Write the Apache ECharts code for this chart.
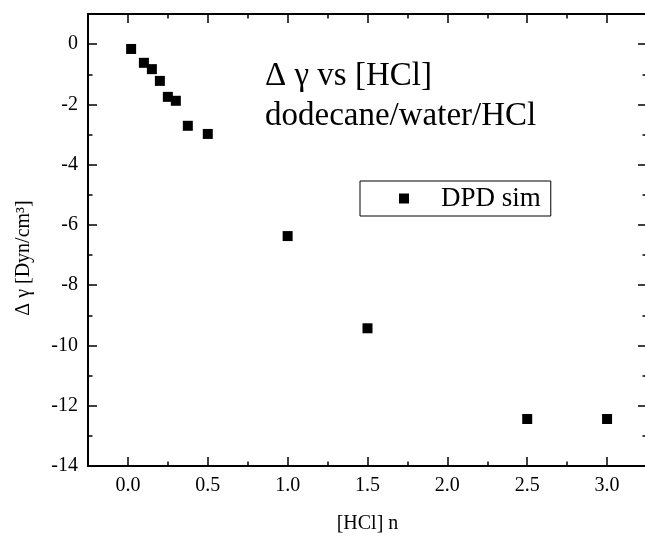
<!DOCTYPE html>
<html>
<head>
<meta charset="utf-8">
<script src="https://cdn.jsdelivr.net/npm/echarts@6/dist/echarts.min.js"></script>
<style>
html,body{margin:0;padding:0;background:#fff;}
#chart{width:645px;height:538px;}
</style>
</head>
<body>
<div id="chart"></div>
<script>
// Data
const hclConc = [0.02, 0.1, 0.15, 0.2, 0.25, 0.3, 0.375, 0.5, 1.0, 1.5, 2.5, 3.0];
const deltaGamma = [-0.16, -0.62, -0.83, -1.22, -1.75, -1.88, -2.71, -2.98, -6.37, -9.43, -12.44, -12.44];
const xMajorTicks = [0, 0.5, 1.0, 1.5, 2.0, 2.5, 3.0];
const xMinorTicks = [-0.25, 0.25, 0.75, 1.25, 1.75, 2.25, 2.75, 3.25];
const yMajorTicks = [-14, -12, -10, -8, -6, -4, -2, 0];
const yMinorTicks = [-13, -11, -9, -7, -5, -3, -1];
const seriesName = 'DPD sim';
const titleText = 'Δ γ vs [HCl]\ndodecane/water/HCl';
const xName = '[HCl] n';
const yName = 'Δ γ [Dyn/cm³]';

const FONT = '"Liberation Serif", "Times New Roman", serif';
const black = '#000';

function xAxisDef(pos, ticks, len, showLine, withLabels) {
  return {
    type: 'value', position: pos, min: -0.25, max: 3.25,
    axisLine: {show: showLine, onZero: false, lineStyle: {color: black, width: 2}},
    axisTick: {show: true, inside: true, length: len, customValues: ticks, lineStyle: {color: black, width: 1.5}},
    axisLabel: withLabels ? {show: true, customValues: xMajorTicks, margin: 10, color: black, fontFamily: FONT, fontSize: 20,
      formatter: v => Number(v).toFixed(1)} : {show: false},
    splitLine: {show: false},
    name: withLabels ? xName : '',
    nameLocation: 'middle', nameGap: 48,
    nameTextStyle: {fontFamily: FONT, fontSize: 20, color: black}
  };
}
function yAxisDef(pos, ticks, len, showLine, withLabels) {
  return {
    type: 'value', position: pos, min: -14, max: 1,
    axisLine: {show: showLine, onZero: false, lineStyle: {color: black, width: 2}},
    axisTick: {show: true, inside: true, length: len, customValues: ticks, lineStyle: {color: black, width: 1.5}},
    axisLabel: withLabels ? {show: true, customValues: yMajorTicks, margin: 10, color: black, fontFamily: FONT, fontSize: 20,
      formatter: v => String(v)} : {show: false},
    splitLine: {show: false},
    name: withLabels ? yName : '',
    nameLocation: 'middle', nameGap: 54, nameRotate: 90,
    nameTextStyle: {fontFamily: FONT, fontSize: 20, color: black, padding: [0, 36, 0, 0]}
  };
}

const chart = echarts.init(document.getElementById('chart'), null, {renderer: 'canvas'});
chart.setOption({
  animation: false,
  backgroundColor: '#fff',
  title: {
    text: titleText, left: 265, top: 56, padding: 0,
    textStyle: {fontFamily: FONT, fontSize: 33, fontWeight: 'normal', color: black, lineHeight: 40}
  },
  legend: {
    left: 360, top: 181, orient: 'horizontal',
    borderColor: black, borderWidth: 1, padding: [4, 10, 4, 39],
    itemWidth: 10, itemHeight: 10, itemGap: 0,
    itemStyle: {opacity: 1, color: black},
    textStyle: {fontFamily: FONT, fontSize: 27, color: black, lineHeight: 27, padding: [0, 0, 0, 27]},
    data: [{name: seriesName, icon: 'rect'}]
  },
  grid: {left: 88, top: 14, right: -2, bottom: 72, containLabel: false, outerBoundsMode: 'none'},
  xAxis: [
    xAxisDef('bottom', xMajorTicks, 9, true, true),
    xAxisDef('bottom', xMinorTicks, 4.5, false, false),
    xAxisDef('top', xMajorTicks, 9, true, false),
    xAxisDef('top', xMinorTicks, 4.5, false, false)
  ],
  yAxis: [
    yAxisDef('left', yMajorTicks, 9, true, true),
    yAxisDef('left', yMinorTicks, 4.5, false, false),
    yAxisDef('right', yMajorTicks, 9, true, false),
    yAxisDef('right', yMinorTicks, 4.5, false, false)
  ],
  series: [{
    name: seriesName, type: 'scatter', xAxisIndex: 0, yAxisIndex: 0,
    symbol: 'rect', symbolSize: 10,
    itemStyle: {color: black, opacity: 1},
    emphasis: {disabled: true},
    data: hclConc.map((x, i) => [x, deltaGamma[i]])
  }]
});
</script>
</body>
</html>
